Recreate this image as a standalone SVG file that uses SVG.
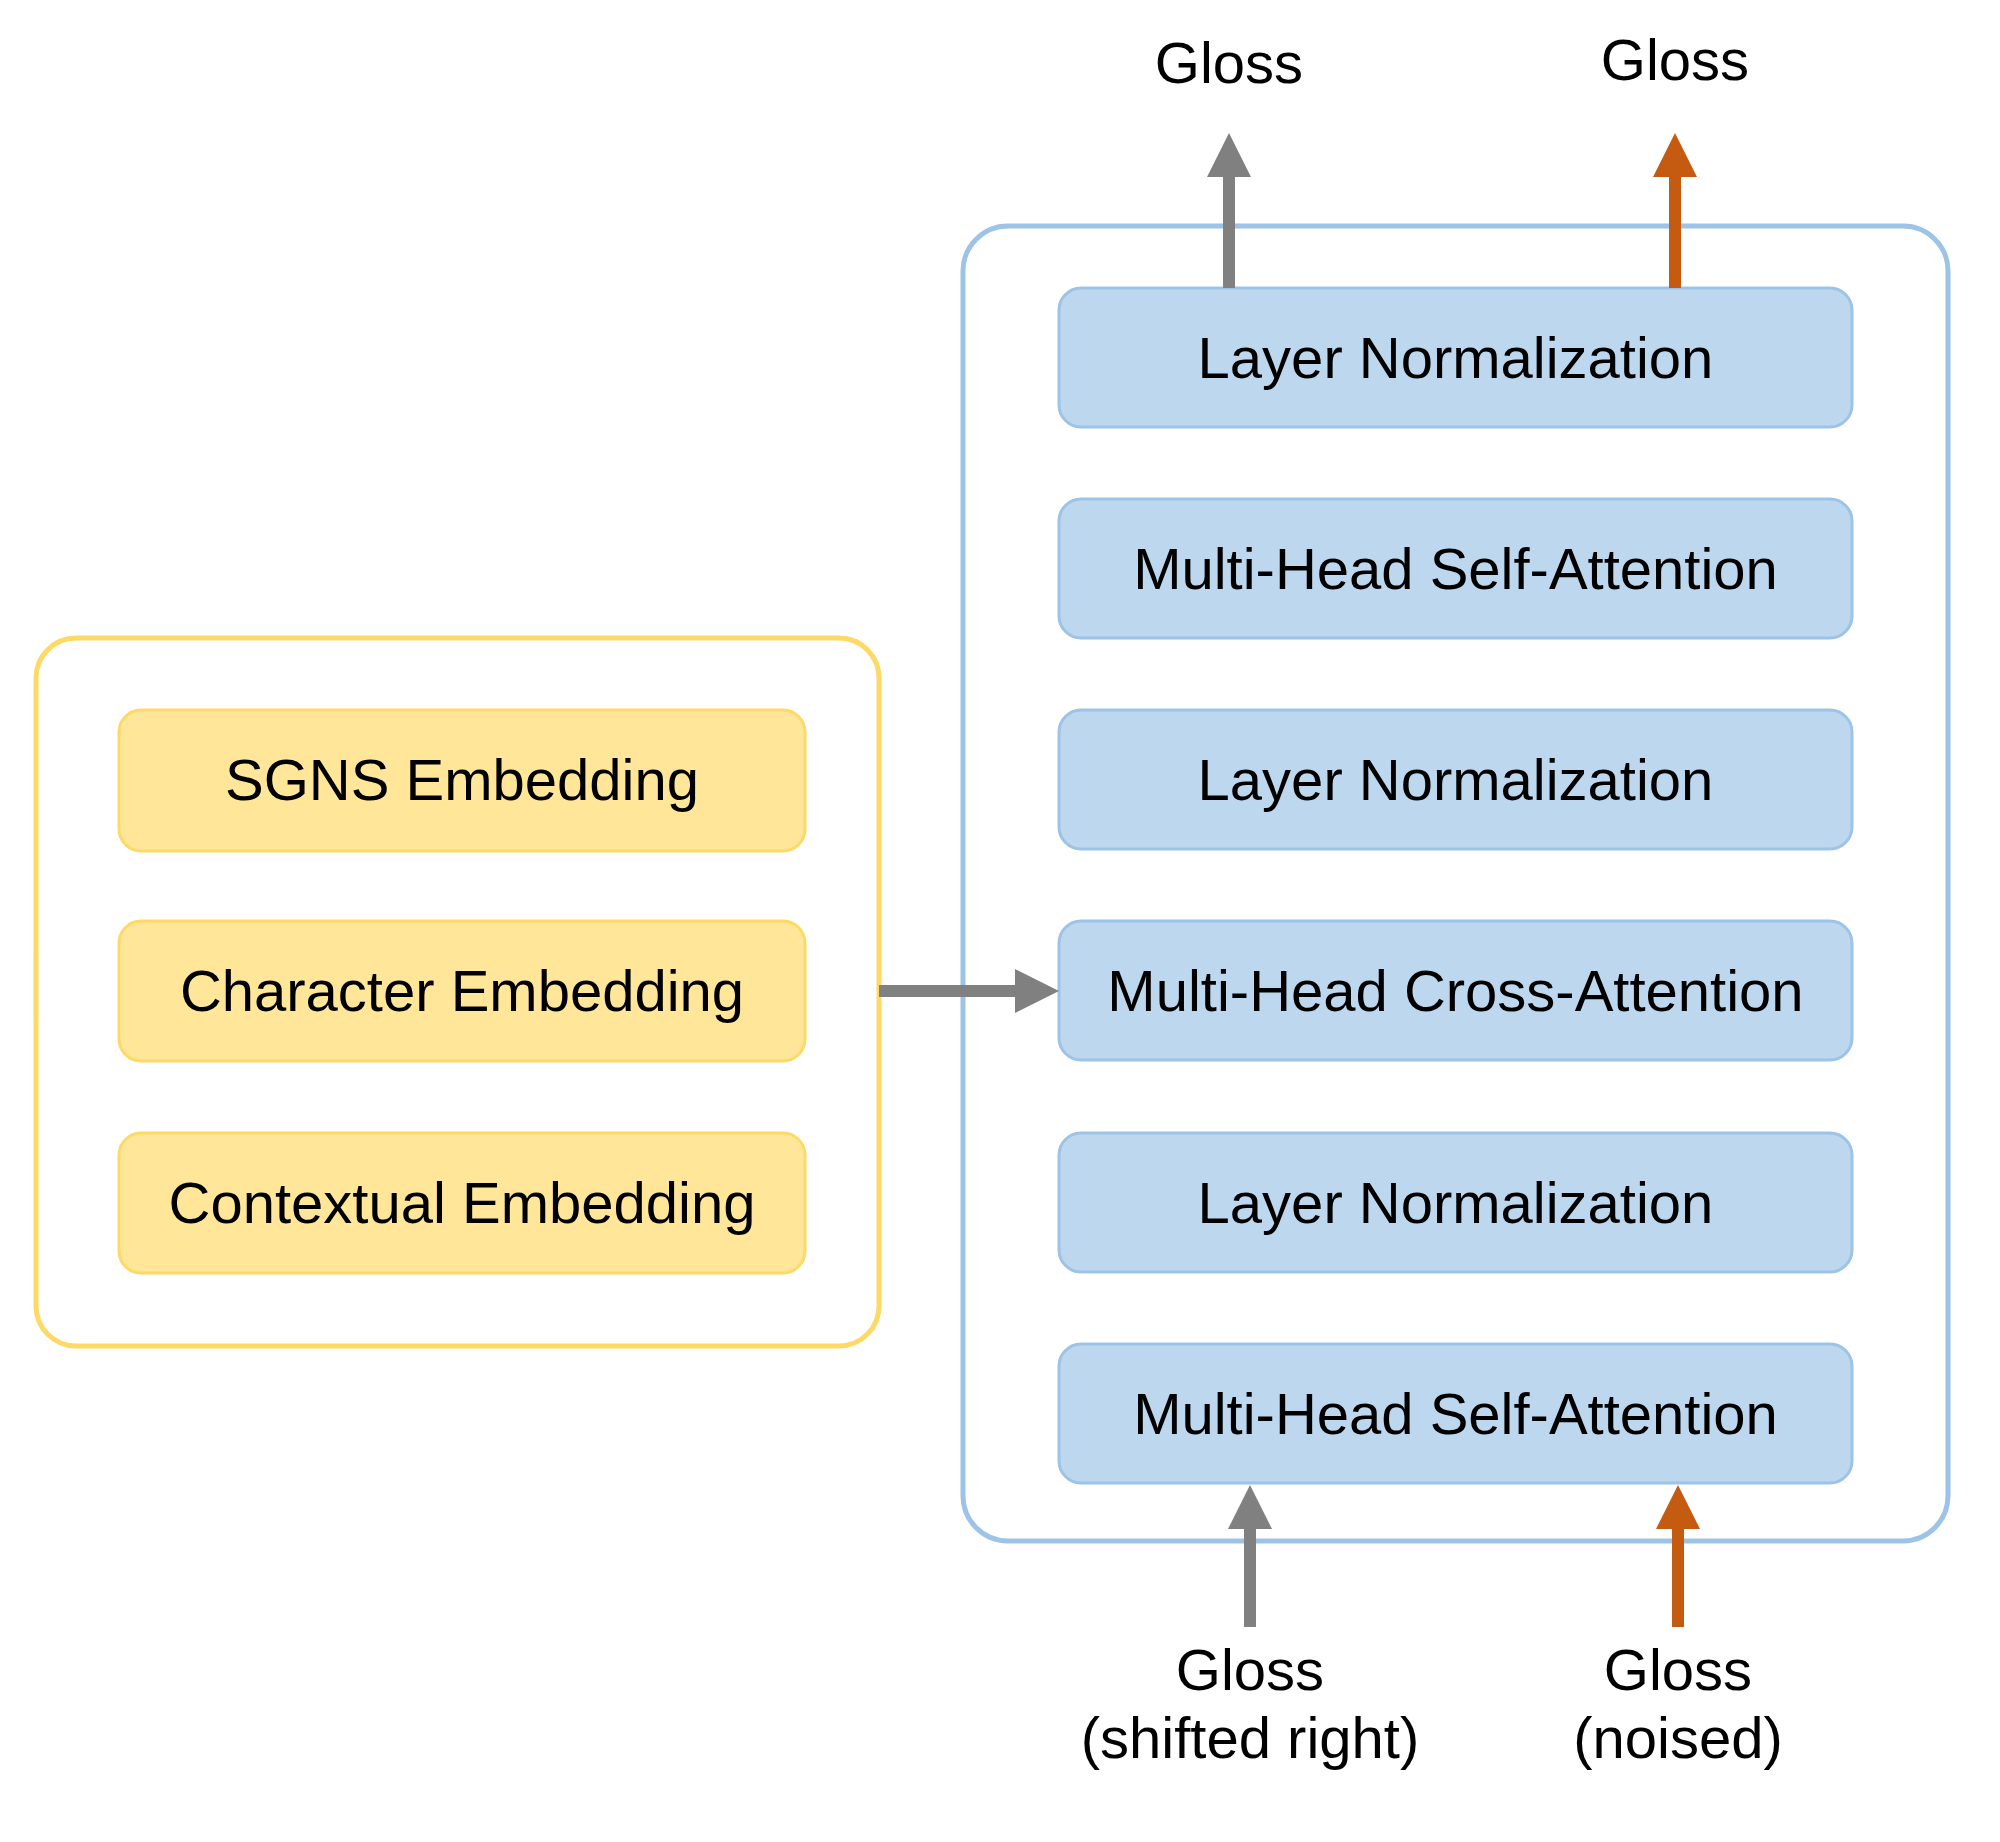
<svg xmlns="http://www.w3.org/2000/svg" width="2000" height="1842" viewBox="0 0 2000 1842">
<style>
  .container-blue { fill: #FFFFFF; stroke: #9DC3E6; stroke-width: 5; }
  .container-yellow { fill: #FFFFFF; stroke: #FFD966; stroke-width: 5; }
  .blue { fill: #BDD7EE; stroke: #9DC3E6; stroke-width: 3; }
  .yellow { fill: #FFE699; stroke: #FFD966; stroke-width: 3; }
  .label { font-family: "Liberation Sans", Arial, sans-serif; font-size: 58px; fill: #000000; text-anchor: middle; }
  .gray { stroke: #808080; stroke-width: 12; fill: none; }
  .orange { stroke: #C55A11; stroke-width: 12; fill: none; }
</style>
<defs>
  <marker id="head-gray" viewBox="0 0 44 44" markerWidth="44" markerHeight="44" markerUnits="userSpaceOnUse" refX="1" refY="22" orient="auto">
    <path d="M0,0 L44,22 L0,44 z" fill="#808080"/>
  </marker>
  <marker id="head-orange" viewBox="0 0 44 44" markerWidth="44" markerHeight="44" markerUnits="userSpaceOnUse" refX="1" refY="22" orient="auto">
    <path d="M0,0 L44,22 L0,44 z" fill="#C55A11"/>
  </marker>
</defs>
<rect width="2000" height="1842" fill="#FFFFFF"/>

<g id="decoder-container">
  <rect class="container-blue" x="963" y="226" width="985" height="1315" rx="45" ry="45"/>
</g>
<g id="embedding-container">
  <rect class="container-yellow" x="36" y="638" width="843" height="708" rx="40" ry="40"/>
</g>

<g id="layer-norm-top">
  <rect class="blue" x="1059" y="288" width="793" height="139" rx="22" ry="22"/>
  <text class="label" x="1455.5" y="378">Layer Normalization</text>
</g>
<g id="self-attention-top">
  <rect class="blue" x="1059" y="499" width="793" height="139" rx="22" ry="22"/>
  <text class="label" x="1455.5" y="589">Multi-Head Self-Attention</text>
</g>
<g id="layer-norm-mid">
  <rect class="blue" x="1059" y="710" width="793" height="139" rx="22" ry="22"/>
  <text class="label" x="1455.5" y="800">Layer Normalization</text>
</g>
<g id="cross-attention">
  <rect class="blue" x="1059" y="921" width="793" height="139" rx="22" ry="22"/>
  <text class="label" x="1455.5" y="1011">Multi-Head Cross-Attention</text>
</g>
<g id="layer-norm-bottom">
  <rect class="blue" x="1059" y="1133" width="793" height="139" rx="22" ry="22"/>
  <text class="label" x="1455.5" y="1223">Layer Normalization</text>
</g>
<g id="self-attention-bottom">
  <rect class="blue" x="1059" y="1344" width="793" height="139" rx="22" ry="22"/>
  <text class="label" x="1455.5" y="1434">Multi-Head Self-Attention</text>
</g>

<g id="sgns-embedding">
  <rect class="yellow" x="119" y="710" width="686" height="141" rx="22" ry="22"/>
  <text class="label" x="462" y="800">SGNS Embedding</text>
</g>
<g id="character-embedding">
  <rect class="yellow" x="119" y="921" width="686" height="140" rx="22" ry="22"/>
  <text class="label" x="462" y="1011">Character Embedding</text>
</g>
<g id="contextual-embedding">
  <rect class="yellow" x="119" y="1133" width="686" height="140" rx="22" ry="22"/>
  <text class="label" x="462" y="1223">Contextual Embedding</text>
</g>

<g id="output-gloss-left">
  <text class="label" x="1229" y="83">Gloss</text>
</g>
<g id="output-gloss-right">
  <text class="label" x="1675" y="80">Gloss</text>
</g>
<g id="input-gloss-shifted">
  <text class="label" x="1250" y="1690">Gloss</text>
  <text class="label" x="1250" y="1758">(shifted right)</text>
</g>
<g id="input-gloss-noised">
  <text class="label" x="1678" y="1690">Gloss</text>
  <text class="label" x="1678" y="1758">(noised)</text>
</g>

<g id="connectors">
  <path class="gray" d="M879,991 L1016,991" marker-end="url(#head-gray)"/>
  <path class="gray" d="M1229,288 L1229,176" marker-end="url(#head-gray)"/>
  <path class="orange" d="M1675,288 L1675,176" marker-end="url(#head-orange)"/>
  <path class="gray" d="M1250,1627 L1250,1528" marker-end="url(#head-gray)"/>
  <path class="orange" d="M1678,1627 L1678,1528" marker-end="url(#head-orange)"/>
</g>
</svg>
